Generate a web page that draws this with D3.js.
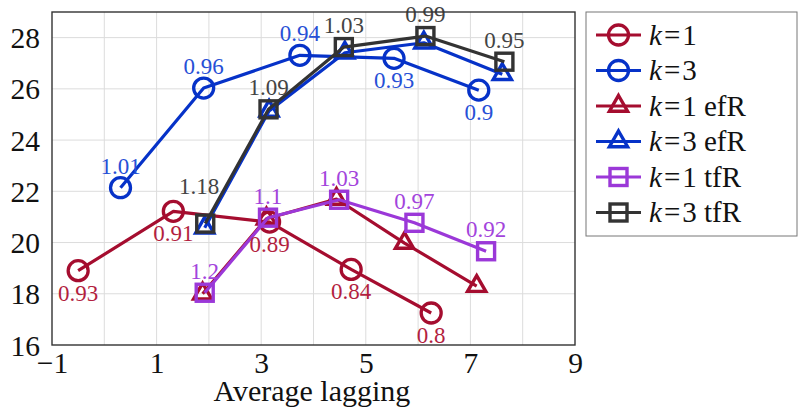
<!DOCTYPE html>
<html>
<head>
<meta charset="utf-8">
<script src="https://cdn.jsdelivr.net/npm/d3@7"></script>
<style>
  html, body { margin: 0; padding: 0; background: #fff; }
  svg { display: block; }
</style>
</head>
<body>
<svg id="chart" width="798" height="409" font-family="'Liberation Serif', 'DejaVu Serif', serif"></svg>
<script>
// ---- data ----
const seriesNames = ["k=1", "k=3", "k=1 efR", "k=3 efR", "k=1 tfR", "k=3 tfR"];

const k1Lag   = [-0.5, 1.32, 3.16, 4.72, 6.25];
const k1Bleu  = [18.9, 21.22, 20.8, 18.95, 17.25];
const k1Lbl   = ["0.93", "0.91", "0.89", "0.84", "0.8"];

const k3Lag   = [0.31, 1.9, 3.74, 5.54, 7.16];
const k3Bleu  = [22.14, 26.03, 27.31, 27.19, 25.95];
const k3Lbl   = ["1.01", "0.96", "0.94", "0.93", "0.9"];

const k1efLag  = [1.88, 3.1, 4.44, 5.74, 7.12];
const k1efBleu = [18.0, 20.93, 21.7, 19.98, 18.3];

const k3efLag  = [1.92, 3.15, 4.6, 6.11, 7.61];
const k3efBleu = [20.58, 25.14, 27.41, 27.8, 26.57];

const k1tfLag  = [1.92, 3.13, 4.49, 5.93, 7.3];
const k1tfBleu = [18.04, 20.97, 21.67, 20.77, 19.66];
const k1tfLbl  = ["1.2", "1.1", "1.03", "0.97", "0.92"];

const k3tfLag  = [1.93, 3.14, 4.58, 6.14, 7.65];
const k3tfBleu = [20.74, 25.2, 27.63, 28.06, 27.06];
const k3tfLbl  = ["1.18", "1.09", "1.03", "0.99", "0.95"];

const xTicks = [-1, 1, 3, 5, 7, 9];
const yTicks = [16, 18, 20, 22, 24, 26, 28];
const xLabel = "Average lagging";

// ---- styles ----
const FONT = "'Liberation Serif', 'DejaVu Serif', serif";
const RED = "#a50d2f", BLUE = "#0632c8", PURPLE = "#9b38d8", GRAY = "#333333";
const zip = (xs, ys, ls) => xs.map((x, i) => ({ x, y: ys[i], label: ls ? ls[i] : null }));

const series = [
  { name: seriesNames[0], color: RED,    mark: "circle",   pts: zip(k1Lag, k1Bleu, k1Lbl), below: true,  lblColor: "#b31f3f" },
  { name: seriesNames[1], color: BLUE,   mark: "circle",   pts: zip(k3Lag, k3Bleu, k3Lbl), below: [false, false, false, true, true], lblColor: "#2750d6" },
  { name: seriesNames[2], color: RED,    mark: "triangle", pts: zip(k1efLag, k1efBleu) },
  { name: seriesNames[3], color: BLUE,   mark: "triangle", pts: zip(k3efLag, k3efBleu) },
  { name: seriesNames[4], color: PURPLE, mark: "square",   pts: zip(k1tfLag, k1tfBleu, k1tfLbl), below: false, lblColor: "#a344dc" },
  { name: seriesNames[5], color: GRAY,   mark: "square",   pts: zip(k3tfLag, k3tfBleu, k3tfLbl), below: false, lblColor: "#444444" }
];

// ---- layout ----
const svg = d3.select("#chart");
const plot = { left: 52, right: 575, top: 12, bottom: 345 };
const x = d3.scaleLinear().domain([-1, 9]).range([plot.left, plot.right]);
const y = d3.scaleLinear().domain([16, 29]).range([plot.bottom, plot.top]);

// grid
const grid = svg.append("g").attr("stroke", "#dcdcdc").attr("stroke-width", 1);
grid.selectAll("line.v").data(d3.range(0, 9)).join("line")
  .attr("x1", d => x(d)).attr("x2", d => x(d))
  .attr("y1", plot.top).attr("y2", plot.bottom);
grid.selectAll("line.h").data(yTicks.slice(1)).join("line")
  .attr("x1", plot.left).attr("x2", plot.right)
  .attr("y1", d => y(d)).attr("y2", d => y(d));

// axes (tick labels only, no tick marks)
const fmt = d => d < 0 ? "\u2212" + Math.abs(d) : String(d);
const xAxis = svg.append("g").attr("transform", `translate(0,${plot.bottom})`)
  .call(d3.axisBottom(x).tickValues(xTicks).tickFormat(fmt).tickSize(0).tickPadding(7));
const yAxis = svg.append("g").attr("transform", `translate(${plot.left},0)`)
  .call(d3.axisLeft(y).tickValues(yTicks).tickFormat(fmt).tickSize(0).tickPadding(12));
[xAxis, yAxis].forEach(a => {
  a.attr("font-family", FONT);
  a.select(".domain").remove();
  a.selectAll("text").attr("font-size", 29.5).attr("fill", "#111");
});
yAxis.selectAll("text").attr("dy", "0.34em");

svg.append("text").attr("x", x(3.97)).attr("y", 401)
  .attr("text-anchor", "middle").attr("font-size", 30).attr("fill", "#111")
  .text(xLabel);

// markers
function drawMarker(g, type, cx, cy, color) {
  if (type === "circle") {
    g.append("circle").attr("cx", cx).attr("cy", cy).attr("r", 10)
      .attr("fill", "none").attr("stroke", color).attr("stroke-width", 3.3);
  } else if (type === "square") {
    const h = 8.5;
    g.append("rect").attr("x", cx - h).attr("y", cy - h).attr("width", 2 * h).attr("height", 2 * h)
      .attr("fill", "none").attr("stroke", color).attr("stroke-width", 3.4);
  } else {
    const r = 10.5;
    const pts = [[cx, cy - r], [cx + r * Math.sqrt(3) / 2, cy + r / 2], [cx - r * Math.sqrt(3) / 2, cy + r / 2]];
    g.append("path").attr("d", "M" + pts.join("L") + "Z")
      .attr("fill", "none").attr("stroke", color).attr("stroke-width", 3.4).attr("stroke-linejoin", "miter");
  }
}

const line = d3.line().x(d => x(d.x)).y(d => y(d.y));
const plotG = svg.append("g");
series.forEach(s => {
  const g = plotG.append("g");
  g.append("path").datum(s.pts).attr("d", line)
    .attr("fill", "none").attr("stroke", s.color).attr("stroke-width", 3.2).attr("stroke-linejoin", "round");
  s.pts.forEach(p => drawMarker(g, s.mark, x(p.x), y(p.y), s.color));
});

// value labels; the label of the first k=3 tfR point is lifted clear of the crossing lines
const nudges = { "k=3 tfR|0": [-6, -16] };
series.forEach(s => {
  if (!s.pts[0].label) return;
  s.pts.forEach((p, i) => {
    const below = Array.isArray(s.below) ? s.below[i] : s.below;
    const n = nudges[s.name + "|" + i] || [0, 0];
    svg.append("text")
      .attr("x", x(p.x) + n[0])
      .attr("y", y(p.y) + (below ? 22 : -22) + n[1])
      .attr("dy", "0.35em")
      .attr("text-anchor", "middle")
      .attr("font-size", 23)
      .attr("fill", s.lblColor)
      .text(p.label);
  });
});

// plot frame
svg.append("rect").attr("x", plot.left).attr("y", plot.top)
  .attr("width", plot.right - plot.left).attr("height", plot.bottom - plot.top)
  .attr("fill", "none").attr("stroke", "#333").attr("stroke-width", 1.4);

// legend
const leg = svg.append("g");
leg.append("rect").attr("x", 586).attr("y", 12).attr("width", 211).attr("height", 224)
  .attr("fill", "#fff").attr("stroke", "#777").attr("stroke-width", 1);
series.forEach((s, i) => {
  const cy = 35 + i * 35.5;
  leg.append("line").attr("x1", 596).attr("x2", 641).attr("y1", cy).attr("y2", cy)
    .attr("stroke", s.color).attr("stroke-width", 3.2);
  drawMarker(leg, s.mark, 618.5, cy, s.color);
  const t = leg.append("text").attr("x", 649).attr("y", cy).attr("dy", "0.34em")
    .attr("font-size", 29).attr("fill", "#111");
  const [head, ...rest] = s.name.split(" ");
  const [kVar, kVal] = head.split("=");
  t.append("tspan").attr("font-style", "italic").text(kVar);
  t.append("tspan").attr("dx", 2).text("=");
  t.append("tspan").attr("dx", 2).text(kVal + (rest.length ? " " + rest.join(" ") : ""));
});
</script>
</body>
</html>
